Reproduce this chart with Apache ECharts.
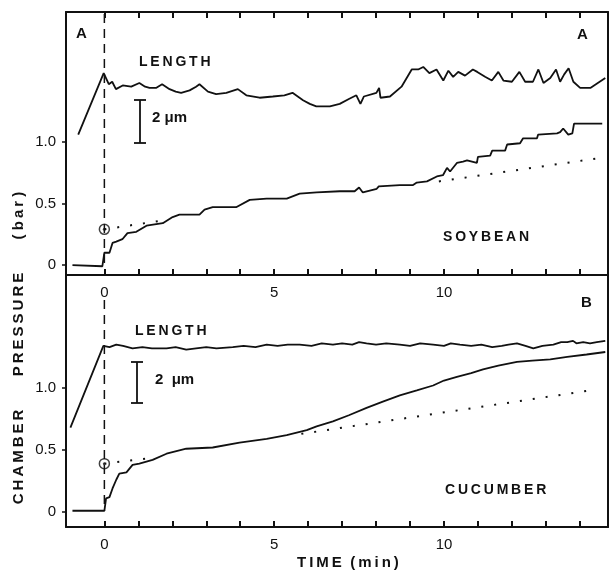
<!DOCTYPE html>
<html>
<head>
<meta charset="utf-8">
<script src="https://cdn.jsdelivr.net/npm/echarts@6/dist/echarts.min.js"></script>
<style>
  html, body { margin: 0; padding: 0; background: #fff; }
  #main { width: 611px; height: 575px; }
</style>
</head>
<body>
<div id="main"></div>
<script>
// time ticks (min) and labels
var timeTicks = [0, 1, 2, 3, 4, 5, 6, 7, 8, 9, 10, 11, 12, 13, 14];
var timeLabels = [0, 5, 10];
var pressureTicks = [0, 0.5, 1.0];

// A: soybean, length trace (drawn on pressure scale, arbitrary offset)
var soyLength = [
    [-0.77, 1.06], [-0.02, 1.56], [0.13, 1.47], [0.23, 1.49], [0.34, 1.43], [0.54, 1.46], [0.79, 1.45],
    [1.03, 1.48], [1.2, 1.45], [1.33, 1.44], [1.52, 1.44], [1.70, 1.47], [1.92, 1.43], [2.1, 1.41],
    [2.26, 1.40], [2.51, 1.42], [2.7, 1.45], [2.80, 1.47], [3.05, 1.41], [3.29, 1.39], [3.59, 1.40],
    [3.93, 1.43], [4.18, 1.38], [4.57, 1.36], [4.96, 1.37], [5.3, 1.38], [5.54, 1.40], [5.85, 1.34],
    [6.05, 1.31], [6.24, 1.29], [6.64, 1.29], [6.93, 1.31], [7.2, 1.35], [7.42, 1.38], [7.54, 1.31],
    [7.64, 1.37], [8.01, 1.40], [8.09, 1.44], [8.13, 1.36], [8.41, 1.37], [8.75, 1.45], [9.05, 1.59],
    [9.24, 1.59], [9.39, 1.61], [9.57, 1.56], [9.78, 1.59], [9.98, 1.50], [10.13, 1.58], [10.27, 1.53],
    [10.42, 1.57], [10.62, 1.54], [10.85, 1.59], [10.98, 1.57], [11.21, 1.53], [11.41, 1.50],
    [11.6, 1.57], [11.75, 1.50], [12.0, 1.49], [12.22, 1.57], [12.39, 1.49], [12.62, 1.49],
    [12.78, 1.59], [12.93, 1.48], [13.13, 1.52], [13.3, 1.59], [13.42, 1.49], [13.54, 1.55],
    [13.67, 1.60], [13.81, 1.49], [14.01, 1.44], [14.31, 1.44], [14.75, 1.52]
];

// A: soybean, chamber pressure (bar)
var soyPressure = [
    [-0.94, 0], [-0.06, -0.01], [0, 0.10], [0.15, 0.10], [0.24, 0.18], [0.35, 0.19], [0.53, 0.21],
    [0.68, 0.26], [0.94, 0.27], [1.24, 0.32], [1.72, 0.34], [2.01, 0.39], [2.21, 0.41], [2.8, 0.41],
    [2.95, 0.45], [3.19, 0.47], [3.88, 0.47], [4.28, 0.53], [4.78, 0.54], [5.37, 0.54], [5.75, 0.58],
    [6.25, 0.59], [6.93, 0.60], [7.37, 0.60], [7.5, 0.63], [7.61, 0.59], [8.02, 0.62], [8.08, 0.64],
    [8.7, 0.65], [9.09, 0.65], [9.2, 0.67], [9.5, 0.68], [9.79, 0.72], [9.97, 0.73], [10.09, 0.79],
    [10.18, 0.76], [10.38, 0.83], [10.56, 0.84], [10.68, 0.85], [10.97, 0.83], [11.0, 0.88],
    [11.36, 0.89], [11.42, 0.93], [11.8, 0.93], [11.86, 0.98], [12.24, 0.99], [12.33, 1.03],
    [12.74, 1.03], [12.77, 1.06], [13.33, 1.07], [13.42, 1.08], [13.51, 1.11], [13.66, 1.06],
    [13.78, 1.07], [13.83, 1.15], [14.66, 1.15]
];
var soyDottedA = [[0, 0.29], [1.65, 0.36]];
var soyDottedB = [[9.85, 0.68], [14.6, 0.87]];
var soyCircle = [[0, 0.29]];

// B: cucumber, length trace
var cucLength = [
    [-1.0, 0.68], [-0.03, 1.34], [0.15, 1.33], [0.35, 1.35], [0.55, 1.34], [0.83, 1.32], [1.12, 1.33],
    [1.4, 1.32], [1.83, 1.32], [2.1, 1.33], [2.41, 1.31], [2.7, 1.32], [3.0, 1.33], [3.3, 1.32],
    [3.78, 1.33], [4.1, 1.34], [4.45, 1.33], [4.78, 1.35], [5.1, 1.34], [5.4, 1.35], [5.75, 1.35],
    [6.1, 1.34], [6.4, 1.36], [6.73, 1.35], [7.0, 1.36], [7.3, 1.35], [7.5, 1.37], [7.72, 1.36],
    [8.0, 1.35], [8.3, 1.36], [8.7, 1.35], [9.0, 1.34], [9.3, 1.36], [9.68, 1.35], [10.0, 1.34],
    [10.2, 1.36], [10.47, 1.35], [10.8, 1.34], [11.1, 1.35], [11.42, 1.33], [11.7, 1.34], [11.9, 1.35],
    [12.15, 1.36], [12.4, 1.34], [12.63, 1.32], [12.9, 1.34], [13.22, 1.35], [13.45, 1.37],
    [13.63, 1.37], [13.8, 1.38], [13.9, 1.36], [14.1, 1.37], [14.3, 1.36], [14.5, 1.37], [14.75, 1.38]
];

// B: cucumber, chamber pressure (bar)
var cucPressure = [
    [-0.94, 0.01], [0, 0.01], [0.05, 0.11], [0.15, 0.12], [0.24, 0.19], [0.35, 0.26], [0.44, 0.31],
    [0.65, 0.32], [0.83, 0.38], [1.03, 0.39], [1.42, 0.42], [1.83, 0.47], [2.41, 0.51], [3.19, 0.52],
    [3.98, 0.56], [4.78, 0.59], [5.37, 0.62], [5.96, 0.66], [6.25, 0.69], [6.73, 0.73], [7.2, 0.78],
    [7.72, 0.84], [8.2, 0.89], [8.7, 0.94], [9.2, 0.98], [9.68, 1.02], [10.0, 1.06], [10.38, 1.09],
    [10.8, 1.12], [11.15, 1.15], [11.6, 1.18], [12.15, 1.21], [12.6, 1.22], [13.13, 1.23],
    [13.63, 1.25], [14.2, 1.27], [14.75, 1.29]
];
var cucDottedA = [[0, 0.39], [1.2, 0.43]];
var cucDottedB = [[5.8, 0.63], [14.3, 0.98]];
var cucCircle = [[0, 0.39]];

// zero-time markers
var zeroLineA = [[0, 2.04], [0, 0]];
var zeroLineB = [[0, 1.71], [0, 0.01]];

var chart = echarts.init(document.getElementById('main'));
var FONT = 'Liberation Sans';
var INK = '#111';
var TS = '\u2009'; // thin space, used as letter spacing

function spaced(s) {
    return s.split('').join(TS);
}

function xAx(grid, pos, showLabel, showTick) {
    return {
        type: 'value', gridIndex: grid, position: pos, min: -1.13, max: 14.83,
        axisLine: {show: true, onZero: false, lineStyle: {color: INK, width: 2}},
        axisTick: {show: showTick, inside: true, length: 6, customValues: timeTicks, lineStyle: {color: INK, width: 2}},
        axisLabel: {show: showLabel, customValues: timeLabels, margin: 10, color: INK, fontSize: 15, fontFamily: FONT},
        splitLine: {show: false}
    };
}

function yAx(grid, pos, min, max, showLabel) {
    return {
        type: 'value', gridIndex: grid, position: pos, min: min, max: max,
        axisLine: {show: true, onZero: false, lineStyle: {color: INK, width: 2}},
        axisTick: {show: showLabel, inside: false, length: 4, customValues: pressureTicks, lineStyle: {color: INK, width: 1.5}},
        axisLabel: {
            show: showLabel, customValues: pressureTicks, margin: 10, color: INK, fontSize: 15, fontFamily: FONT,
            formatter: function (v) { return v === 0 ? '0' : v.toFixed(1); }
        },
        splitLine: {show: false}
    };
}

function trace(data, xi, yi) {
    return {type: 'line', data: data, xAxisIndex: xi, yAxisIndex: yi, symbol: 'none', silent: true,
        lineStyle: {color: INK, width: 1.8}};
}
function dotted(data, xi, yi) {
    return {type: 'line', data: data, xAxisIndex: xi, yAxisIndex: yi, symbol: 'none', silent: true,
        lineStyle: {color: INK, width: 2, type: [2, 11]}};
}
function dashed(data, xi, yi) {
    return {type: 'line', data: data, xAxisIndex: xi, yAxisIndex: yi, symbol: 'none', silent: true,
        lineStyle: {color: INK, width: 1.5, type: [9, 6]}};
}
function circle(data, xi, yi) {
    return [{
        type: 'scatter', data: data, xAxisIndex: xi, yAxisIndex: yi, symbol: 'circle', symbolSize: 10, silent: true,
        itemStyle: {color: '#fff', borderColor: INK, borderWidth: 1.5}
    }, {
        type: 'scatter', data: data, xAxisIndex: xi, yAxisIndex: yi, symbol: 'circle', symbolSize: 3, silent: true,
        itemStyle: {color: INK}
    }];
}

function txt(x, y, s, size) {
    return {type: 'text', left: x, top: y, silent: true,
        style: {text: s, fill: INK, font: 'bold ' + size + 'px "' + FONT + '"'}};
}
function bar(x, y1, y2) {
    return {type: 'group', silent: true, children: [
        {type: 'line', shape: {x1: x, y1: y1, x2: x, y2: y2}, style: {stroke: INK, lineWidth: 1.8}},
        {type: 'line', shape: {x1: x - 6, y1: y1, x2: x + 6, y2: y1}, style: {stroke: INK, lineWidth: 1.8}},
        {type: 'line', shape: {x1: x - 6, y1: y2, x2: x + 6, y2: y2}, style: {stroke: INK, lineWidth: 1.8}}
    ]};
}

var gap = '        ';
var option = {
    backgroundColor: '#fff',
    animation: false,
    grid: [
        {left: 66, top: 12, width: 542, height: 263},
        {left: 66, top: 275, width: 542, height: 252}
    ],
    xAxis: [
        xAx(0, 'bottom', true, true),
        xAx(0, 'top', false, true),
        xAx(1, 'bottom', true, true),
        xAx(1, 'top', false, false)
    ],
    yAxis: [
        yAx(0, 'left', -0.081, 2.057, true),
        yAx(0, 'right', -0.081, 2.057, false),
        yAx(1, 'left', -0.121, 1.911, true),
        yAx(1, 'right', -0.121, 1.911, false)
    ],
    series: [
        dashed(zeroLineA, 0, 0),
        dashed(zeroLineB, 2, 2),
        trace(soyLength, 0, 0),
        trace(soyPressure, 0, 0),
        dotted(soyDottedA, 0, 0),
        dotted(soyDottedB, 0, 0),
        trace(cucLength, 2, 2),
        trace(cucPressure, 2, 2),
        dotted(cucDottedA, 2, 2),
        dotted(cucDottedB, 2, 2)
    ].concat(circle(soyCircle, 0, 0), circle(cucCircle, 2, 2)),
    graphic: [
        txt(76, 26, 'A', 15),
        txt(577, 27, 'A', 15),
        txt(139, 55, spaced('LENGTH'), 14),
        bar(140, 100, 143),
        txt(152, 110, '2 μm', 15),
        txt(443, 230, spaced('SOYBEAN'), 14),
        txt(581, 295, 'B', 15),
        txt(135, 324, spaced('LENGTH'), 14),
        bar(137, 362, 403),
        txt(155, 372, '2  μm', 15),
        txt(445, 483, spaced('CUCUMBER'), 14),
        txt(297, 555, spaced('TIME') + '  ' + spaced('(min)'), 15),
        {type: 'text', x: 19, y: 348, rotation: Math.PI / 2, silent: true,
            style: {text: spaced('CHAMBER') + gap + spaced('PRESSURE') + gap + '( ' + spaced('bar') + ' )', fill: INK,
                font: 'bold 15px "' + FONT + '"', align: 'center', verticalAlign: 'middle'}}
    ]
};

chart.setOption(option);
</script>
</body>
</html>
